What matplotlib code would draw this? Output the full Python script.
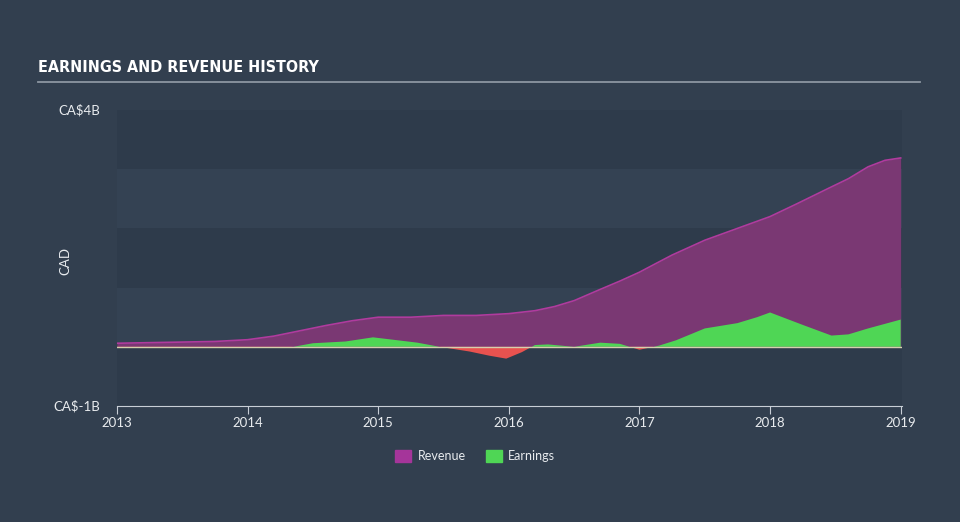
import matplotlib
matplotlib.use("Agg")
import matplotlib.pyplot as plt
from matplotlib.patches import Patch
from matplotlib import font_manager
import numpy as np

# Revenue (CA$ billions)
rev_x = [2013.0, 2013.25, 2013.5, 2013.75, 2014.0, 2014.2, 2014.4, 2014.6, 2014.8, 2015.0,
         2015.25, 2015.5, 2015.75, 2016.0, 2016.2, 2016.35, 2016.5, 2016.7, 2016.85, 2017.0,
         2017.12, 2017.25, 2017.5, 2017.75, 2018.0, 2018.2, 2018.45, 2018.6, 2018.75, 2018.88, 2019.0]
rev_y = [0.06, 0.07, 0.08, 0.09, 0.12, 0.18, 0.27, 0.36, 0.44, 0.50,
         0.50, 0.53, 0.53, 0.56, 0.61, 0.68, 0.78, 0.97, 1.11, 1.26,
         1.40, 1.55, 1.80, 2.00, 2.20, 2.41, 2.68, 2.84, 3.04, 3.15, 3.19]

# Earnings (CA$ billions)
earn_x = [2013.0, 2013.5, 2014.0, 2014.25, 2014.35, 2014.5, 2014.75, 2014.96, 2015.15, 2015.3,
          2015.47, 2015.7, 2015.85, 2015.98, 2016.1, 2016.2, 2016.3, 2016.5, 2016.7, 2016.85,
          2017.0, 2017.15, 2017.28, 2017.5, 2017.75, 2017.9, 2018.0, 2018.25, 2018.47, 2018.6,
          2018.75, 2019.0]
earn_y = [-0.02, -0.02, -0.02, -0.02, 0.0, 0.06, 0.09, 0.16, 0.11, 0.07,
          0.0, -0.08, -0.15, -0.2, -0.09, 0.03, 0.04, 0.0, 0.07, 0.05,
          -0.05, 0.02, 0.11, 0.31, 0.40, 0.50, 0.58, 0.37, 0.19, 0.21, 0.31, 0.46]

x_ticks = [2013, 2014, 2015, 2016, 2017, 2018, 2019]
y_ticks = [-1, 4]
y_tick_labels = ["CA$-1B", "CA$4B"]

plt.rcParams['font.family'] = ['Lato', 'DejaVu Sans']

bg = "#323f4f"
fig = plt.figure(figsize=(9.6, 5.22), dpi=100, facecolor=bg)
ax = fig.add_axes([117/960, (522-406)/522, (902-117)/960, (406-110)/522])
ax.set_facecolor(bg)

# alternating bands
for lo in range(-1, 4):
    col = "#2e3b4b" if (lo % 2 == 1 or lo == -1) else "#344253"
    ax.axhspan(lo, lo + 1, color=col, zorder=0, lw=0)

rx = np.array(rev_x); ry = np.array(rev_y)
ax.fill_between(rx, 0, ry, color="#7a3873", zorder=2, lw=0)
ax.plot(rx, ry, color="#b03b9e", lw=1.2, zorder=3)

ex = np.array(earn_x); ey = np.array(earn_y)
ax.fill_between(ex, 0, ey, where=ey >= 0, interpolate=True, color="#4fd655", zorder=4, lw=0)
ax.fill_between(ex, 0, ey, where=ey <= 0, interpolate=True, color="#e8524f", zorder=4, lw=0)
ax.axhline(0, color="#d6cfae", lw=1, zorder=5)

ax.set_xlim(2013, 2019.01)
ax.set_ylim(-1, 4)
ax.set_xticks(x_ticks)
ax.set_xticklabels([str(t) for t in x_ticks])
ax.set_yticks(y_ticks)
ax.set_yticklabels(y_tick_labels)
for s in ["top", "right", "left"]:
    ax.spines[s].set_visible(False)
ax.spines["bottom"].set_color("#c8ced6")
ax.tick_params(axis="x", colors="#c8ced6", labelcolor="#e8ebee", length=6, labelsize=9.5, pad=2)
ax.tick_params(axis="y", length=0, labelcolor="#e8ebee", labelsize=9.5, pad=12)
for lab in ax.get_yticklabels():
    lab.set_verticalalignment("center")
ax.set_ylabel("CAD", color="#e8ebee", fontsize=9.5)
ax.yaxis.set_label_coords(-0.058, 0.49)

title_fp = font_manager.FontProperties(family=["DejaVu Sans"], weight="bold", stretch="condensed", size=11.5)
fig.text(38/960, 1 - 68/522, "EARNINGS AND REVENUE HISTORY", color="white",
         fontproperties=title_fp, va="center")
fig.add_artist(plt.Line2D([38/960, 920/960], [1 - 82/522, 1 - 82/522], color="#8c96a2", lw=1.3))

handles = [Patch(color="#a5359a", label="Revenue"), Patch(color="#4fd655", label="Earnings")]
fig.legend(handles=handles, loc="center", bbox_to_anchor=(475/960, 1 - 456/522), ncol=2,
           frameon=False, labelcolor="#e8ebee", fontsize=9, handlelength=1.3, handleheight=1.1,
           columnspacing=1.6, handletextpad=0.5)

fig.savefig("out.png", dpi=100, facecolor=bg)
